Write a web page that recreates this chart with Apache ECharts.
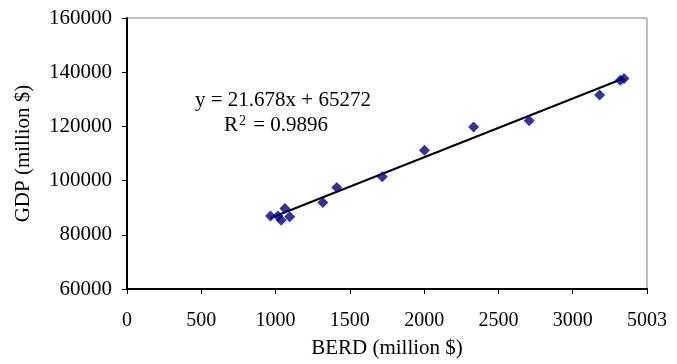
<!DOCTYPE html>
<html><head><meta charset="utf-8">
<script src="https://cdn.jsdelivr.net/npm/echarts@6/dist/echarts.min.js"></script>
<style>html,body{margin:0;padding:0;background:#fff}#c{width:677px;height:364px}</style>
</head><body><div id="c"></div>
<script>
var berd = [966, 1016, 1038, 1063, 1095, 1318, 1412, 1718, 2002, 2333, 2707, 3181, 3320, 3345];
var gdp  = [86950, 86900, 85400, 89700, 86700, 91900, 97500, 101400, 111200, 119800, 122100, 131600, 137000, 137700];
var xTickLabels = ['0','500','1000','1500','2000','2500','3000','5003'];
var yTickLabels = ['60000','80000','100000','120000','140000','160000'];
var slope = 21.678, intercept = 65272;
var eqText = 'y = 21.678x + 65272';
var r2Text = 'R{s|2} = 0.9896';

var pts = berd.map(function(x,i){return [x, gdp[i]];});
var xmin = Math.min.apply(null, berd), xmax = Math.max.apply(null, berd);
var trend = [[xmin, slope*xmin+intercept],[xmax, slope*xmax+intercept]];
var font = '"Liberation Serif","Times New Roman",serif';
var chart = echarts.init(document.getElementById('c'));
chart.setOption({
  animation:false,
  grid:{left:127,right:30,top:18,bottom:74,show:true,borderColor:'#808080',borderWidth:1},
  xAxis:{type:'value',min:0,max:3500,interval:500,
    name:'BERD (million $)',nameLocation:'middle',nameGap:49,
    nameTextStyle:{fontFamily:font,fontSize:21,color:'#000'},
    axisLine:{lineStyle:{color:'#000',width:2}},
    axisTick:{show:true,inside:false,length:5,lineStyle:{color:'#000'}},
    axisLabel:{fontFamily:font,fontSize:20,color:'#000',margin:22,
      formatter:function(v){return xTickLabels[Math.round(v/500)];}},
    splitLine:{show:false}},
  yAxis:{type:'value',min:60000,max:160000,interval:20000,
    name:'GDP (million $)',nameLocation:'middle',nameGap:93,nameRotate:90,
    nameTextStyle:{fontFamily:font,fontSize:21,color:'#000'},
    axisLine:{show:true,lineStyle:{color:'#000',width:2}},
    axisTick:{show:true,inside:false,length:5,lineStyle:{color:'#000'}},
    axisLabel:{fontFamily:font,fontSize:21,color:'#000',margin:15,
      formatter:function(v){return yTickLabels[Math.round((v-60000)/20000)];}},
    splitLine:{show:false}},
  series:[
    {type:'line',data:trend,symbol:'none',lineStyle:{color:'#000',width:2},z:3,silent:true},
    {type:'scatter',data:pts,symbol:'diamond',symbolSize:11,itemStyle:{color:'#000080'},z:4}
  ],
  graphic:[
    {type:'text',left:195,top:90,style:{text:eqText,fontFamily:font,fontSize:21,fill:'#000'}},
    {type:'text',left:224,top:114,style:{text:r2Text,fontFamily:font,fontSize:21,fill:'#000',
      rich:{s:{fontFamily:font,fontSize:14,verticalAlign:'top',padding:[0,2,9,1]}}}}
  ]
});
</script></body></html>
